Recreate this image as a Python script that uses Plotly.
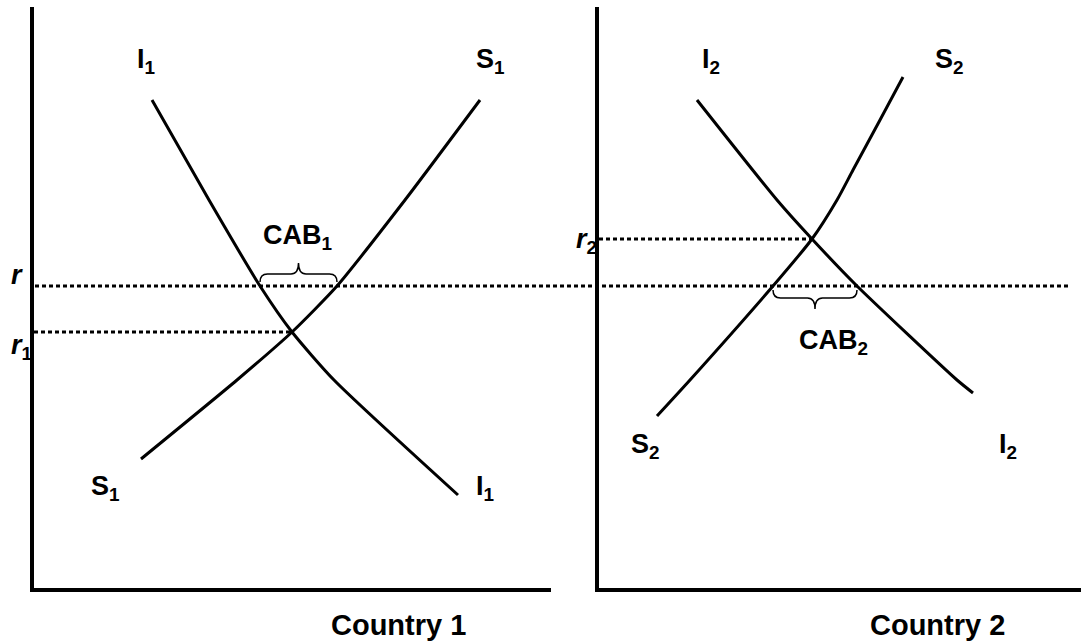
import plotly.graph_objects as go
import numpy as np

W, H = 1081, 644

# Country 1 curves (quantity, interest rate)
I1_x = [2.36, 3.5, 4.52, 5.16, 6.0, 8.48]
I1_y = [9.76, 7.76, 6.04, 5.12, 4.16, 1.86]
S1_x = [2.14, 4.06, 5.16, 6.06, 7.42, 8.92]
S1_y = [2.58, 4.16, 5.12, 6.04, 7.76, 9.76]

# Country 2 curves
I2_x = [1.96, 3.56, 4.26, 5.16, 7.16, 7.48]
I2_y = [9.76, 7.76, 6.98, 6.04, 4.16, 3.9]
S2_x = [1.16, 1.82, 3.48, 4.26, 4.76, 5.08, 5.62, 6.08]
S2_y = [3.44, 4.16, 6.04, 6.98, 7.76, 8.36, 9.36, 10.22]

# interest rates: world rate r, autarky rates r1, r2 (and where they sit on the curves)
r_world = 6.04
r_autarky = [5.12, 6.98]
q_autarky = [5.16, 4.26]


def px(x):
    return x / W


def py(y):
    return 1 - y / H


def cross(xs, ys, level):
    # x where a curve reaches a given rate
    order = np.argsort(ys)
    return float(np.interp(level, np.array(ys)[order], np.array(xs)[order]))


def brace(xa, xb, base, s, d=0.15):
    y0 = base + s * 0.08
    y1 = base + s * 0.24
    yt = base + s * 0.46
    xm = (xa + xb) / 2
    return (f"M {xa},{y0} Q {xa},{y1} {xa+d},{y1} L {xm-d},{y1} "
            f"Q {xm},{y1} {xm},{yt} Q {xm},{y1} {xm+d},{y1} "
            f"L {xb-d},{y1} Q {xb},{y1} {xb},{y0}")


fig = go.Figure()
line = dict(color="black", width=3, shape="spline", smoothing=0.6)
dots = dict(color="black", width=3, dash="4px,3px")

fig.add_trace(go.Scatter(x=I1_x, y=I1_y, mode="lines", line=line, xaxis="x", yaxis="y"))
fig.add_trace(go.Scatter(x=S1_x, y=S1_y, mode="lines", line=line, xaxis="x", yaxis="y"))
fig.add_trace(go.Scatter(x=I2_x, y=I2_y, mode="lines", line=line, xaxis="x2", yaxis="y2"))
fig.add_trace(go.Scatter(x=S2_x, y=S2_y, mode="lines", line=line, xaxis="x2", yaxis="y2"))

# r1 and r2 dotted lines from the axis to the intersection
fig.add_trace(go.Scatter(x=[0, q_autarky[0]], y=[r_autarky[0]] * 2, mode="lines",
                         line=dots, xaxis="x", yaxis="y"))
fig.add_trace(go.Scatter(x=[0, q_autarky[1]], y=[r_autarky[1]] * 2, mode="lines",
                         line=dots, xaxis="x2", yaxis="y2"))

# world rate r across both panels
fig.add_shape(type="line", xref="paper", yref="y",
              x0=px(35), x1=px(1068), y0=r_world, y1=r_world, line=dots)

# braces for current account balances
a1, b1 = cross(I1_x, I1_y, r_world), cross(S1_x, S1_y, r_world)
a2, b2 = cross(S2_x, S2_y, r_world), cross(I2_x, I2_y, r_world)
fig.add_shape(type="path", xref="x", yref="y", path=brace(a1, b1, r_world, 1),
              line=dict(color="black", width=1.5))
fig.add_shape(type="path", xref="x2", yref="y2", path=brace(a2, b2, r_world, -1),
              line=dict(color="black", width=1.5))

font = dict(family="Liberation Sans, Arial", size=27, color="black")
labels = [
    ("<b>I<sub>1</sub></b>", 146, 61),
    ("<b>S<sub>1</sub></b>", 490, 61),
    ("<b>S<sub>1</sub></b>", 105, 488),
    ("<b>I<sub>1</sub></b>", 485, 488),
    ("<b>I<sub>2</sub></b>", 711, 61),
    ("<b>S<sub>2</sub></b>", 949, 61),
    ("<b>S<sub>2</sub></b>", 645, 446),
    ("<b>I<sub>2</sub></b>", 1008, 446),
    ("<b>CAB<sub>1</sub></b>", 297, 237),
    ("<b>CAB<sub>2</sub></b>", 833, 342),
    ("<b><i>r</i></b>", 17, 275),
    ("<b><i>r</i><sub>1</sub></b>", 21, 347),
    ("<b><i>r</i><sub>2</sub></b>", 586, 241),
]
for txt, x, y in labels:
    fig.add_annotation(text=txt, x=px(x), y=py(y), xref="paper", yref="paper",
                       showarrow=False, xanchor="center", yanchor="middle", font=font)

for txt, x in [("<b>Country 1</b>", 398), ("<b>Country 2</b>", 937)]:
    fig.add_annotation(text=txt, x=px(x), y=py(625), xref="paper", yref="paper",
                       showarrow=False, xanchor="center", yanchor="middle",
                       font=dict(family="Liberation Sans, Arial", size=29, color="black"))

ax = dict(showline=True, linewidth=4, linecolor="black", showgrid=False,
          zeroline=False, showticklabels=False, ticks="", fixedrange=True)
ydom = [py(588), py(7)]
fig.update_layout(
    width=W, height=H, autosize=False,
    margin=dict(l=0, r=0, t=0, b=0),
    plot_bgcolor="white", paper_bgcolor="white",
    showlegend=False, hovermode=False,
    xaxis=dict(ax, domain=[px(34), px(551)], range=[0, 517 / 50], anchor="y"),
    yaxis=dict(ax, domain=ydom, range=[0, 581 / 50], anchor="x"),
    xaxis2=dict(ax, domain=[px(599), 1], range=[0, 482 / 50], anchor="y2"),
    yaxis2=dict(ax, domain=ydom, range=[0, 581 / 50], anchor="x2"),
)

# page body has a default margin; drop it so the figure sits at the window corner
fig.write_html("out.html", config={"displayModeBar": False},
               post_script="document.body.style.margin='0px';")
